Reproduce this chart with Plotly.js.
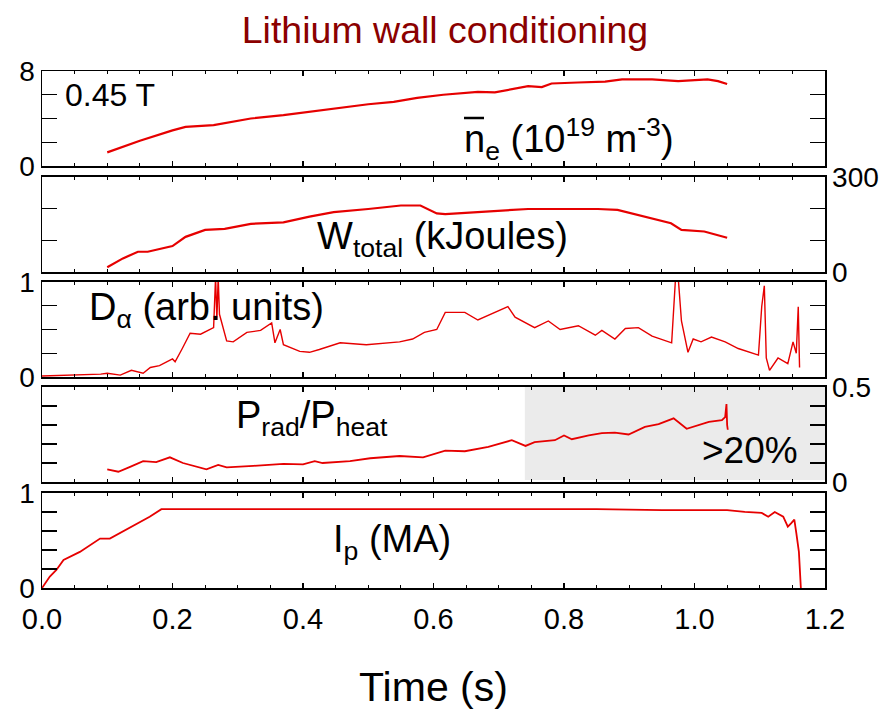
<!DOCTYPE html>
<html>
<head>
<meta charset="utf-8">
<script src="https://cdn.plot.ly/plotly-3.0.1.min.js"></script>
<style>html,body{margin:0;padding:0;background:#fff;}#chart{width:890px;height:714px;}</style>
</head>
<body>
<div id="chart"></div>
<script>
// ---- data ----
const tNe = [0.1,0.15,0.2,0.22,0.263,0.32,0.37,0.4,0.447,0.5,0.539,0.575,0.615,0.668,0.694,0.745,0.766,0.781,0.821,0.863,0.889,0.935,0.975,1.02,1.036,1.05];
const ne  = [1.15,2.13,3.0,3.3,3.45,4.0,4.28,4.48,4.85,5.2,5.4,5.74,6.0,6.25,6.2,6.72,6.65,6.95,7.03,7.1,7.29,7.29,7.15,7.3,7.15,6.9];

const tW = [0.1,0.124,0.147,0.162,0.2,0.22,0.25,0.28,0.32,0.37,0.41,0.447,0.5,0.55,0.58,0.605,0.618,0.668,0.745,0.8,0.852,0.882,0.923,0.964,0.98,1.015,1.05];
const W  = [15,43,64,64,82,111,133,136,152,157,175,189,199,210,210,185,183,189,199,199,199,196,175,154,133,128,108];

const tDa = [0,0.05,0.09,0.1,0.12,0.137,0.155,0.166,0.18,0.2,0.204,0.215,0.227,0.243,0.263,0.266,0.268,0.27,0.272,0.283,0.293,0.314,0.335,0.352,0.357,0.365,0.37,0.395,0.41,0.425,0.457,0.497,0.548,0.568,0.586,0.605,0.618,0.648,0.668,0.714,0.725,0.755,0.776,0.794,0.822,0.848,0.858,0.878,0.894,0.914,0.935,0.965,0.971,0.975,0.98,0.99,0.998,1.01,1.026,1.047,1.067,1.098,1.103,1.107,1.11,1.115,1.128,1.143,1.151,1.156,1.159,1.161];
const Da  = [0.01,0.02,0.03,0.04,0.02,0.07,0.04,0.1,0.12,0.19,0.16,0.3,0.46,0.45,0.52,1.05,0.6,1.05,0.66,0.38,0.37,0.47,0.49,0.57,0.36,0.5,0.34,0.27,0.26,0.29,0.36,0.34,0.37,0.4,0.47,0.5,0.68,0.68,0.6,0.74,0.63,0.52,0.59,0.5,0.54,0.44,0.49,0.4,0.51,0.52,0.43,0.36,1.05,1.05,0.59,0.26,0.4,0.37,0.42,0.37,0.3,0.23,0.74,0.96,0.2,0.07,0.2,0.14,0.37,0.25,0.74,0.1];

const tPrad = [0.1,0.117,0.135,0.155,0.175,0.196,0.216,0.252,0.27,0.283,0.324,0.37,0.4,0.418,0.43,0.472,0.503,0.548,0.584,0.618,0.648,0.684,0.72,0.741,0.755,0.786,0.8,0.812,0.838,0.858,0.878,0.899,0.924,0.945,0.968,0.988,1.022,1.042,1.047,1.049,1.05,1.051];
const prad  = [0.067,0.054,0.08,0.11,0.105,0.13,0.1,0.067,0.09,0.077,0.085,0.095,0.093,0.11,0.1,0.11,0.125,0.137,0.13,0.165,0.162,0.185,0.22,0.19,0.21,0.22,0.245,0.225,0.245,0.257,0.26,0.25,0.29,0.305,0.335,0.28,0.316,0.325,0.342,0.41,0.3,0.275];

const tIp = [0,0.012,0.022,0.033,0.058,0.089,0.104,0.14,0.165,0.183,0.25,0.35,0.45,0.55,0.65,0.75,0.85,0.95,1.05,1.077,1.103,1.113,1.123,1.136,1.143,1.148,1.153,1.156,1.16,1.163];
const Ip  = [0,0.12,0.19,0.295,0.38,0.52,0.52,0.66,0.75,0.83,0.83,0.83,0.83,0.83,0.83,0.83,0.83,0.82,0.82,0.8,0.79,0.75,0.8,0.75,0.645,0.68,0.72,0.58,0.38,0];

const shadeStart = 0.74;

// y-axis labels (only the ends are labelled) and inner tick step per panel
const yLabels = [['0','8'],['0','300'],['0','1'],['0','0.5'],['0','1']];
const yMax    = [8, 300, 1, 0.5, 1];
const yStep   = [2, 100, 0.25, 0.1, 0.2];
const ySide   = ['left','right','left','right','left'];
const domains = [[0.8162,1.0],[0.6112,0.7950],[0.4081,0.5919],[0.2050,0.3888],[0,0.1838]];

const RED = '#e60000';
const FONT = 'Liberation Sans, Arial, Helvetica, sans-serif';

const series = [[tNe,ne,2.2],[tW,W,2.2],[tDa,Da,1.4],[tPrad,prad,1.8],[tIp,Ip,1.8]];
const traces = series.map((s,i)=>({
  x:s[0], y:s[1], type:'scatter', mode:'lines',
  line:{color:RED, width:s[2]},
  xaxis: i===0?'x':'x'+(i+1), yaxis: i===0?'y':'y'+(i+1),
  showlegend:false, hoverinfo:'skip'
}));

const layout = {
  width:890, height:714,
  margin:{l:42, r:65, t:71, b:126},
  paper_bgcolor:'#fff', plot_bgcolor:'rgba(0,0,0,0)',
  font:{family:FONT, color:'#000'},
  title:{text:'Lithium wall conditioning', font:{size:37.5, color:'#8b0000', family:FONT},
         x:0.5, xanchor:'center', y:1-30/714, yanchor:'middle'},
  shapes:[
    {type:'rect', xref:'x4', yref:'y4 domain', x0:shadeStart, x1:1.2, y0:0.02, y1:1.0,
     fillcolor:'#ebebeb', line:{width:0}, layer:'below'},
    // overline on n (n-bar)
    {type:'line', xref:'paper', yref:'paper', x0:(464-42)/783, x1:(484-42)/783, y0:(588-118)/517, y1:(588-118)/517,
     line:{color:'#000', width:2.5}}
  ],
  annotations:[
    {text:'0.45 T', x:0.0868, y:0.9536, font:{size:32}},
    {text:'n<sub>e</sub> (10<sup>19</sup> m<sup>-3</sup>)', x:0.673, y:0.868, font:{size:38}},
    {text:'W<sub>total</sub> (kJoules)', x:0.511, y:0.676, font:{size:38}},
    {text:'D<sub>\u03b1</sub> (arb. units)', x:0.2095, y:0.538, font:{size:38}},
    {text:'P<sub>rad</sub>/P<sub>heat</sub>', x:0.3448, y:0.329, font:{size:38}},
    {text:'>20%', x:0.904, y:0.2669, font:{size:37}},
    {text:'I<sub>p</sub> (MA)', x:0.447, y:0.089, font:{size:38}}
  ].map(a=>Object.assign({xref:'paper', yref:'paper', showarrow:false, xanchor:'center', yanchor:'middle'}, a,
        {font:Object.assign({family:FONT, color:'#000'}, a.font)}))
};

for (let i=0;i<5;i++){
  const xk = i===0?'xaxis':'xaxis'+(i+1);
  const yk = i===0?'yaxis':'yaxis'+(i+1);
  const ya = i===0?'y':'y'+(i+1);
  const xa = i===0?'x':'x'+(i+1);
  layout[xk] = {
    domain:[0,1], anchor:ya, range:[0,1.2], matches: i===0?undefined:'x',
    tickmode:'linear', tick0:0, dtick:0.2, tickformat:'.1f',
    ticks:'inside', ticklen:5, tickwidth:1.2, tickcolor:'#000',
    minor:{dtick:0.05, ticks:'inside', ticklen:3, tickwidth:1, tickcolor:'#000', showgrid:false},
    showline:true, linecolor:'#000', linewidth:1.5, mirror:'ticks',
    showgrid:false, zeroline:false, showticklabels: i===4,
    tickfont:{size:29, family:FONT, color:'#000'}, ticklabelstandoff:5
  };
  layout[yk] = {
    domain:domains[i], anchor:xa, range:[0, yMax[i]], side:ySide[i],
    tickmode:'array', tickvals:[0, yMax[i]], ticktext:yLabels[i],
    ticks:'inside', ticklen:15, tickwidth:1.2, tickcolor:'#000',
    minor:{tick0:0, dtick:yStep[i], ticks:'inside', ticklen:15, tickwidth:1.2, tickcolor:'#000', showgrid:false},
    showline:true, linecolor:'#000', linewidth:1.5, mirror:'ticks',
    showgrid:false, zeroline:false,
    tickfont:{size:28, family:FONT, color:'#000'}
  };
}
layout.xaxis5.title = {text:'Time (s)', font:{size:41, family:FONT, color:'#000'}, standoff:38};

Plotly.newPlot('chart', traces, layout, {staticPlot:true, displayModeBar:false});
</script>
</body>
</html>
